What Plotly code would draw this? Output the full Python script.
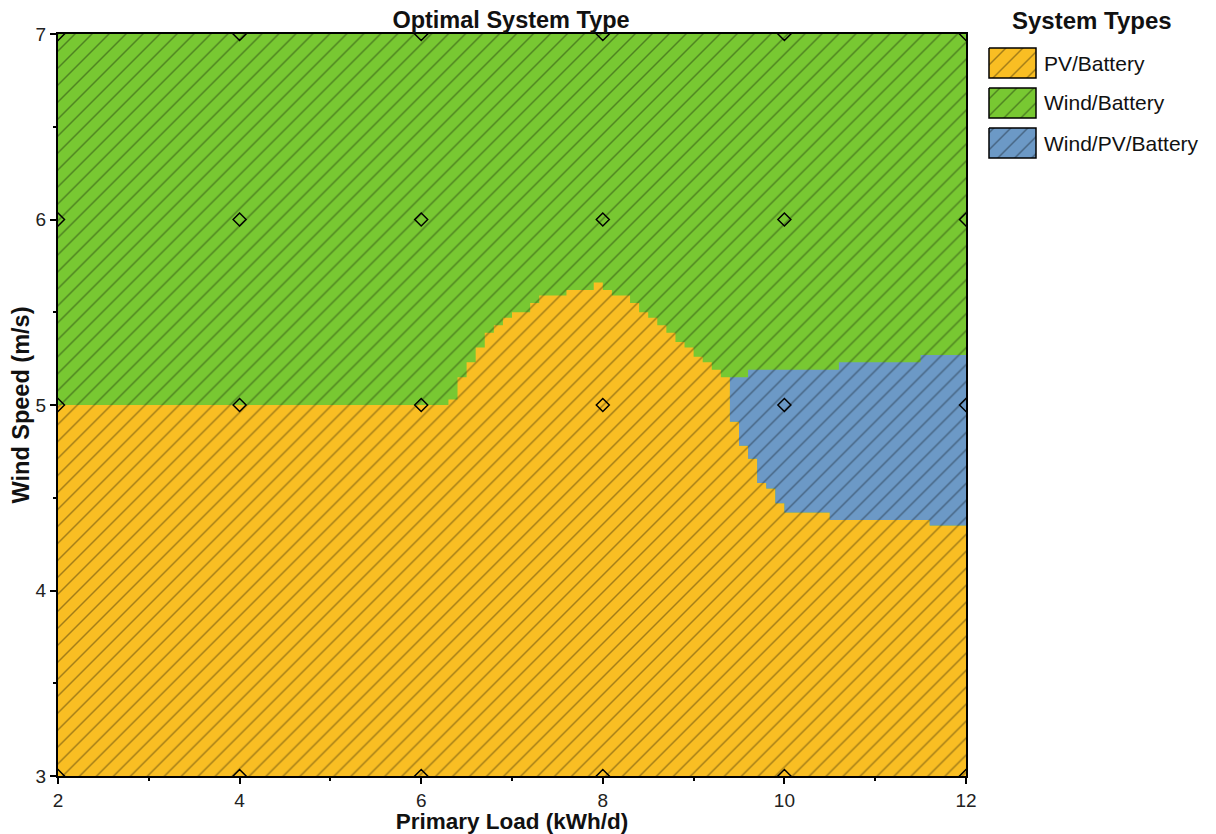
import plotly.graph_objects as go

# ---------------- data ----------------
x_range = [2, 12]          # Primary Load (kWh/d)
y_range = [3, 7]           # Wind Speed (m/s)

# upper edge of the PV/Battery region (step boundary), x breakpoints and values
load_edges = [2.0, 6.3, 6.4, 6.5, 6.6, 6.7, 6.8, 6.9, 7.0, 7.2, 7.3, 7.6, 7.9, 8.0,
              8.1, 8.3, 8.4, 8.5, 8.6, 8.7, 8.8, 8.9, 9.0, 9.1, 9.2, 9.3, 9.4,
              9.5, 9.6, 9.7, 9.8, 9.9, 10.0, 10.5, 11.6, 12.0]
pv_upper = [5.0, 5.03, 5.15, 5.23, 5.31, 5.39, 5.43, 5.47, 5.50, 5.55, 5.59, 5.62,
            5.66, 5.62, 5.59, 5.55, 5.50, 5.47, 5.43, 5.39, 5.34, 5.31, 5.26, 5.23,
            5.19, 5.15, 4.91, 4.78, 4.71, 4.58, 4.55, 4.47, 4.42, 4.38, 4.35]

# upper edge of the Wind/PV/Battery region
blue_edges = [9.4, 9.6, 10.6, 11.5, 12.0]
blue_upper = [5.15, 5.19, 5.23, 5.27]

# sensitivity points
sens_load = [2, 4, 6, 8, 10, 12]
sens_wind = [3, 5, 6, 7]

system_types = ["PV/Battery", "Wind/Battery", "Wind/PV/Battery"]
type_colors = ["#F9BE23", "#78C832", "#6C99C6"]

# ---------------- layout helpers ----------------
FONT = "Liberation Sans, Arial, sans-serif"
OFF = 8                       # page body margin
W, H = 1216 - OFF, 834 - OFF  # figure size
L, R, T, B = 58 - OFF, 966 - OFF, 34 - OFF, 776 - OFF


def px_x(p):
    return (p - OFF) / W


def px_y(p):
    return 1 - (p - OFF) / H


def step_path(edges, vals):
    xs, ys = [], []
    for i, v in enumerate(vals):
        xs += [edges[i], edges[i + 1]]
        ys += [v, v]
    return xs, ys


def pattern(color):
    return dict(shape="/", size=12, solidity=0.12, fgcolor="#000000",
                fgopacity=0.35, bgcolor=color)


fig = go.Figure()

# Wind/Battery background region
fig.add_trace(go.Scatter(
    x=[x_range[0], x_range[1], x_range[1], x_range[0]],
    y=[y_range[0], y_range[0], y_range[1], y_range[1]],
    fill="toself", mode="lines", line=dict(width=0),
    fillcolor=type_colors[1], fillpattern=pattern(type_colors[1]),
    hoverinfo="skip", showlegend=False))

# PV/Battery region
tx, ty = step_path(load_edges, pv_upper)
pv_x = [x_range[0], x_range[1]] + tx[::-1]
pv_y = [y_range[0], y_range[0]] + ty[::-1]
fig.add_trace(go.Scatter(
    x=pv_x, y=pv_y, fill="toself", mode="lines", line=dict(width=0),
    fillcolor=type_colors[0], fillpattern=pattern(type_colors[0]),
    hoverinfo="skip", showlegend=False))

# Wind/PV/Battery region
idx = load_edges.index(blue_edges[0])
lx, ly = step_path(load_edges[idx:], pv_upper[idx:])
bx, by = step_path(blue_edges, blue_upper)
fig.add_trace(go.Scatter(
    x=lx + bx[::-1], y=ly + by[::-1], fill="toself", mode="lines",
    line=dict(width=0),
    fillcolor=type_colors[2], fillpattern=pattern(type_colors[2]),
    hoverinfo="skip", showlegend=False))

# sensitivity markers
mx = [x for y in sens_wind for x in sens_load]
my = [y for y in sens_wind for x in sens_load]
fig.add_trace(go.Scatter(
    x=mx, y=my, mode="markers", cliponaxis=True,
    marker=dict(symbol="diamond-open", size=10, color="#000000",
                line=dict(width=1.5, color="#000000")),
    showlegend=False))

# ---------------- custom legend ----------------
box_l, box_r = 989, 1036
for i, (name, col) in enumerate(zip(system_types, type_colors)):
    top = 48 + 40 * i
    bot = top + 30
    fig.add_trace(go.Scatter(
        x=[box_l, box_r, box_r, box_l, box_l], y=[top, top, bot, bot, top],
        xaxis="x2", yaxis="y2", fill="toself", mode="lines",
        line=dict(width=1.5, color="#000000"),
        fillcolor=col, fillpattern=pattern(col),
        hoverinfo="skip", showlegend=False))
    fig.add_annotation(text=name, xref="paper", yref="paper",
                       x=px_x(1042), y=px_y(top + 15),
                       xanchor="left", yanchor="middle", showarrow=False,
                       font=dict(family=FONT, size=21, color="#111111"))

fig.add_annotation(text="System Types", xref="paper", yref="paper",
                   x=px_x(1092), y=px_y(20), xanchor="center", yanchor="middle",
                   showarrow=False,
                   font=dict(family=FONT, size=24, color="#111111", weight="bold"))

axis_common = dict(showgrid=False, zeroline=False, showline=True, linecolor="#000000",
                   linewidth=2, mirror=True, ticks="outside", ticklen=6, tickwidth=1.5,
                   tickcolor="#000000",
                   tickfont=dict(family=FONT, size=19, color="#222222"),
                   automargin=False)

fig.update_layout(
    width=W, height=H,
    margin=dict(l=0, r=0, t=0, b=0),
    paper_bgcolor="#FFFFFF", plot_bgcolor="#FFFFFF",
    title=dict(text="Optimal System Type", x=px_x(511), y=px_y(20),
               xanchor="center", yanchor="middle",
               font=dict(family=FONT, size=23.5, color="#111111", weight="bold")),
    xaxis=dict(domain=[L / W, R / W], range=x_range, dtick=2, tick0=2,
               minor=dict(dtick=1, tick0=2, ticks="outside", ticklen=3,
                          tickwidth=1.5, tickcolor="#000000"),
               title=dict(text="Primary Load (kWh/d)", standoff=4,
                          font=dict(family=FONT, size=22.5, color="#111111",
                                    weight="bold")),
               **axis_common),
    yaxis=dict(domain=[1 - B / H, 1 - T / H], range=y_range, dtick=1, tick0=3,
               minor=dict(dtick=0.5, tick0=3, ticks="outside", ticklen=3,
                          tickwidth=1.5, tickcolor="#000000"),
               title=dict(text="Wind Speed (m/s)", standoff=2,
                          font=dict(family=FONT, size=23.5, color="#111111",
                                    weight="bold")),
               **axis_common),
    xaxis2=dict(domain=[px_x(980), px_x(1045)], range=[980, 1045], visible=False,
                fixedrange=True, anchor="y2"),
    yaxis2=dict(domain=[px_y(170), px_y(40)], range=[170, 40], visible=False,
                fixedrange=True, anchor="x2"),
    showlegend=False,
)

fig.write_html("out.html")
